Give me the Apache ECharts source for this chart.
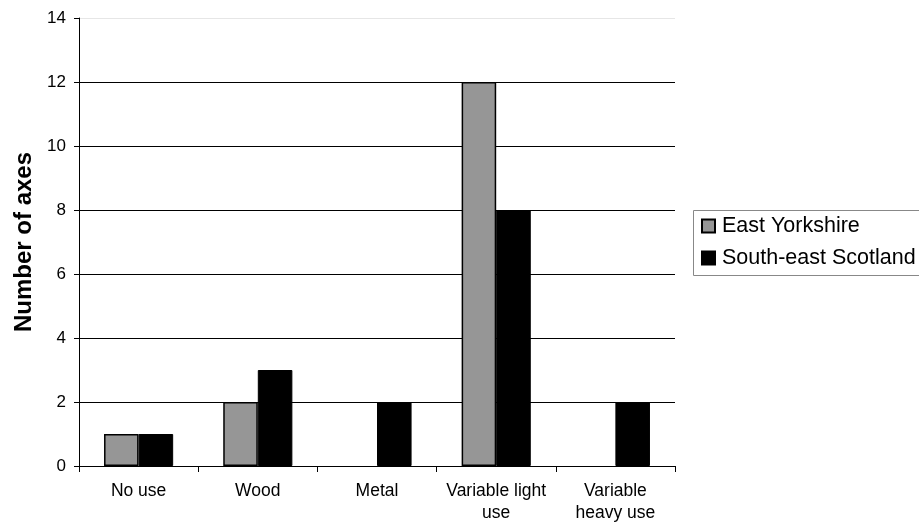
<!DOCTYPE html>
<html>
<head>
<meta charset="utf-8">
<script src="https://cdn.jsdelivr.net/npm/echarts@6/dist/echarts.min.js"></script>
<style>
html, body { margin: 0; padding: 0; background: #fff; }
#chart { width: 919px; height: 525px; }
</style>
</head>
<body>
<div id="chart"></div>
<script>
// categories and counts
var categories = ["No use", "Wood", "Metal", "Variable light\nuse", "Variable\nheavy use"];
var eastYorkshire = [1, 2, 0, 12, 0];
var southEastScotland = [1, 3, 2, 8, 2];
var yTicks = [0, 2, 4, 6, 8, 10, 12, 14];

// zero counts draw no bar at all (otherwise a thin border line shows)
function noZero(list) {
    return list.map(function (v) { return v === 0 ? null : v; });
}

var chart = echarts.init(document.getElementById("chart"));
chart.setOption({
    animation: false,
    textStyle: { fontFamily: "Liberation Sans, Arial, sans-serif" },
    grid: { left: 79, right: 244, top: 18, bottom: 59 },
    // legend frame runs off the right edge, as in the original
    graphic: [{
        type: "rect",
        shape: { x: 693.5, y: 210.5, width: 300, height: 65 },
        style: { fill: null, stroke: "#888", lineWidth: 1 },
        silent: true
    }],
    legend: {
        orient: "vertical",
        left: 693,
        top: 210,
        padding: [5, 0, 6, 8],
        itemGap: 10,
        itemWidth: 13,
        itemHeight: 13,
        icon: "rect",
        textStyle: { fontSize: 21.5, lineHeight: 22, color: "#000", padding: [0, 0, 0, 2] },
        data: ["East Yorkshire", "South-east Scotland"]
    },
    xAxis: {
        type: "category",
        data: categories,
        axisLine: { lineStyle: { color: "#000", width: 1 } },
        axisTick: { show: true, length: 6, lineStyle: { color: "#000" } },
        axisLabel: { color: "#000", fontSize: 17.5, margin: 14, lineHeight: 22, interval: 0 }
    },
    yAxis: {
        type: "value",
        min: yTicks[0],
        max: yTicks[yTicks.length - 1],
        interval: 2,
        name: "Number of axes",
        nameLocation: "middle",
        nameGap: 42,
        nameTextStyle: { fontSize: 24, fontWeight: "bold", color: "#000" },
        axisLine: { show: true, lineStyle: { color: "#000" } },
        axisTick: { show: true, length: 5, lineStyle: { color: "#000" } },
        axisLabel: { color: "#000", fontSize: 17, margin: 13 },
        splitLine: {
            lineStyle: {
                color: ["#000", "#000", "#000", "#000", "#000", "#000", "#000", "#e6e6e6"],
                width: 1
            }
        }
    },
    series: [
        {
            name: "East Yorkshire",
            type: "bar",
            data: noZero(eastYorkshire),
            barGap: "0%",
            barCategoryGap: "42%",
            itemStyle: { color: "#969696", borderColor: "#000", borderWidth: 1.5 }
        },
        {
            name: "South-east Scotland",
            type: "bar",
            data: noZero(southEastScotland),
            itemStyle: { color: "#000", borderColor: "#000", borderWidth: 1 }
        }
    ]
});
</script>
</body>
</html>
